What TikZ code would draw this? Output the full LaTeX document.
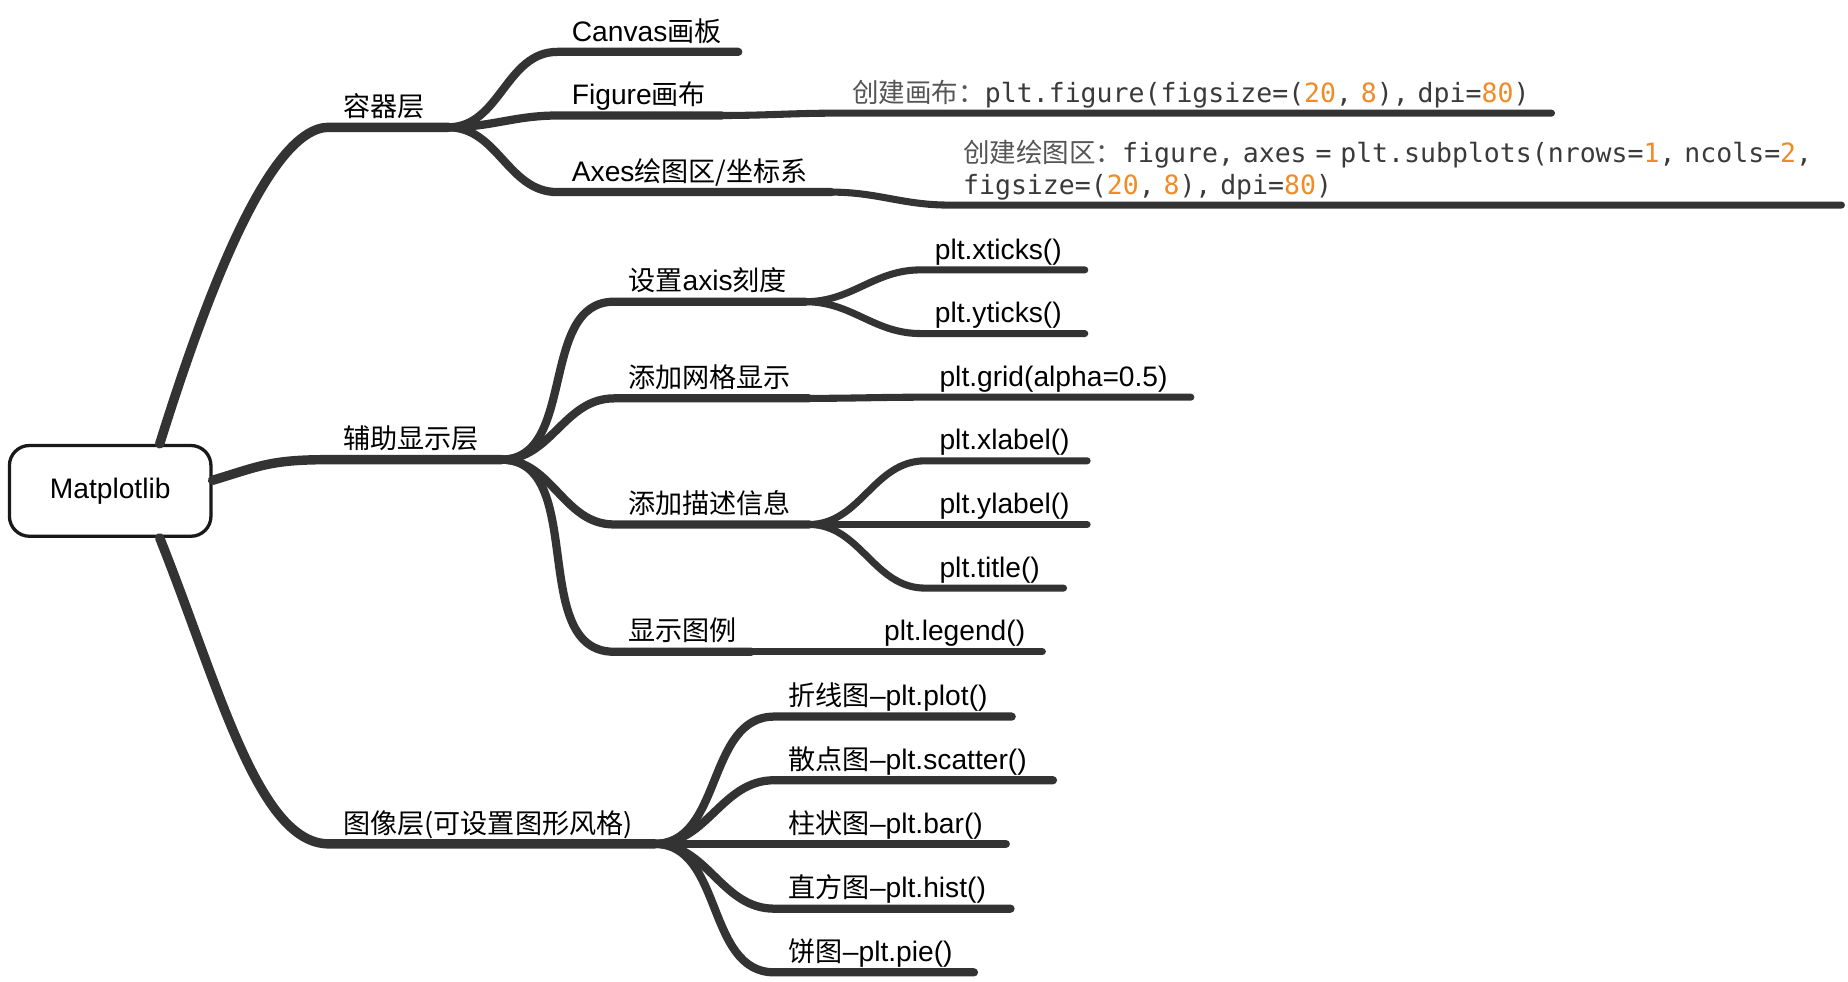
\documentclass[tikz,border=0pt]{standalone}
\usepackage{fontspec}
\setmainfont[Scale=1.04]{Liberation Sans}
\setmonofont{DejaVu Sans Mono}
\newfontfamily\cjkfont{Noto Sans CJK SC}
\usepackage{xcolor}
\usepackage{tikz}
\usetikzlibrary{positioning}

\definecolor{branchgray}{HTML}{333333}
\definecolor{codegray}{HTML}{3A3A3A}
\definecolor{hintgray}{HTML}{555555}
\definecolor{numorange}{HTML}{F08C28}

\newcommand{\zh}[1]{{\cjkfont #1}}
\newcommand{\num}[1]{\textcolor{numorange}{#1}}

\tikzset{
    trunk/.style={line width=8pt, draw=branchgray, line cap=round},
    limb/.style={line width=7pt, draw=branchgray, line cap=round},
    twig/.style={line width=6pt, draw=branchgray, line cap=round},
    topic/.style={anchor=south west, inner xsep=12pt, inner ysep=0pt,
        text depth=9pt, text width=#1, align=left,
        font=\fontsize{23}{27}\selectfont},
    codetopic/.style={topic=#1, text=codegray,
        font=\fontsize{22.5}{27}\selectfont\ttfamily},
    rootbox/.style={draw=black!90, line width=2.8pt, fill=white,
        rounded corners=17pt, minimum width=171pt, minimum height=77pt,
        font=\fontsize{23}{27}\selectfont},
    fork/.style={out=0, in=180}
}

\begin{document}
\begin{tikzpicture}[x=1pt, y=-1pt]
    \useasboundingbox[fill=white] (0,0) rectangle (1568,833);

    \node[rootbox] (root) at (93.5,416.5) {Matplotlib};

    \node[topic=77pt]  (rong)    at (279,108) {\zh{容器层}};
    \node[topic=122pt] (fuzhu)   at (279,390) {\zh{辅助显示层}};
    \node[topic=252pt] (tuxiang) at (279,716) {\zh{图像层(可设置图形风格)}};

    \node[topic=129pt] (canvas) at (473,44)  {Canvas\zh{画板}};
    \node[topic=115pt] (figure) at (473,98)  {Figure\zh{画布}};
    \node[topic=208pt] (axes)   at (473,163) {Axes\zh{绘图区/坐标系}};

    \node[codetopic=581pt] (figcode) at (711,96)
        {\textcolor{hintgray}{\zh{创建画布：}}plt.figure(figsize=(\num{20}, \num{8}), dpi=\num{80})};
    \node[codetopic=733pt, text depth=36pt] (axescode) at (805,174)
        {\textcolor{hintgray}{\zh{创建绘图区：}}figure, axes = plt.subplots(nrows=\num{1}, ncols=\num{2},\\
         figsize=(\num{20}, \num{8}), dpi=\num{80})};

    \node[topic=138pt] (shezhi)  at (521,256) {\zh{设置}axis\zh{刻度}};
    \node[topic=141pt] (wangge)  at (521,338) {\zh{添加网格显示}};
    \node[topic=141pt] (miaoshu) at (521,445) {\zh{添加描述信息}};
    \node[topic=92pt]  (tuli)    at (521,553) {\zh{显示图例}};

    \node[topic=115pt] (xticks) at (781,229) {plt.xticks()};
    \node[topic=115pt] (yticks) at (781,283) {plt.yticks()};
    \node[topic=201pt] (grid)   at (785,337) {plt.grid(alpha=0.5)};
    \node[topic=113pt] (xlabel) at (785,391) {plt.xlabel()};
    \node[topic=113pt] (ylabel) at (785,445) {plt.ylabel()};
    \node[topic=93pt]  (title)  at (785,499) {plt.title()};
    \node[topic=122pt] (legend) at (738,553) {plt.legend()};

    \node[topic=177pt] (plot)    at (657,608) {\zh{折线图}–plt.plot()};
    \node[topic=212pt] (scatter) at (657,662) {\zh{散点图}–plt.scatter()};
    \node[topic=172pt] (bar)     at (657,716) {\zh{柱状图}–plt.bar()};
    \node[topic=176pt] (hist)    at (657,771) {\zh{直方图}–plt.hist()};
    \node[topic=145pt] (pie)     at (657,825) {\zh{饼图}–plt.pie()};

    \draw[trunk] ([xshift=42pt]root.north) .. controls +(40,-128) and +(-50,0) .. (rong.south west) -- (rong.south east);
    \draw[trunk] ([yshift=9pt]root.east) .. controls +(40,-12) and +(-50,0) .. (fuzhu.south west) -- (fuzhu.south east);
    \draw[trunk] ([xshift=42pt]root.south) .. controls +(50,125) and +(-60,0) .. (tuxiang.south west) -- (tuxiang.south east);

    \draw[limb] (rong.south east) to[fork] (canvas.south west) -- (canvas.south east);
    \draw[limb] (rong.south east) to[fork] (figure.south west) -- (figure.south east);
    \draw[limb] (rong.south east) to[fork] (axes.south west) -- (axes.south east);
    \draw[twig] (figure.south east) to[fork] (figcode.south west) -- (figcode.south east);
    \draw[twig] (axes.south east) to[fork] (axescode.south west) -- (axescode.south east);

    \draw[limb] (fuzhu.south east) to[fork] (shezhi.south west) -- (shezhi.south east);
    \draw[limb] (fuzhu.south east) to[fork] (wangge.south west) -- (wangge.south east);
    \draw[limb] (fuzhu.south east) to[fork] (miaoshu.south west) -- (miaoshu.south east);
    \draw[limb] (fuzhu.south east) to[fork] (tuli.south west) -- (tuli.south east);

    \draw[twig] (shezhi.south east) to[fork] (xticks.south west) -- (xticks.south east);
    \draw[twig] (shezhi.south east) to[fork] (yticks.south west) -- (yticks.south east);
    \draw[twig] (wangge.south east) to[fork] (grid.south west) -- (grid.south east);
    \draw[twig] (miaoshu.south east) to[fork] (xlabel.south west) -- (xlabel.south east);
    \draw[twig] (miaoshu.south east) to[fork] (ylabel.south west) -- (ylabel.south east);
    \draw[twig] (miaoshu.south east) to[fork] (title.south west) -- (title.south east);
    \draw[twig] (tuli.south east) to[fork] (legend.south west) -- (legend.south east);

    \draw[limb] (tuxiang.south east) to[fork] (plot.south west) -- (plot.south east);
    \draw[limb] (tuxiang.south east) to[fork] (scatter.south west) -- (scatter.south east);
    \draw[limb] (tuxiang.south east) to[fork] (bar.south west) -- (bar.south east);
    \draw[limb] (tuxiang.south east) to[fork] (hist.south west) -- (hist.south east);
    \draw[limb] (tuxiang.south east) to[fork] (pie.south west) -- (pie.south east);
\end{tikzpicture}
\end{document}
